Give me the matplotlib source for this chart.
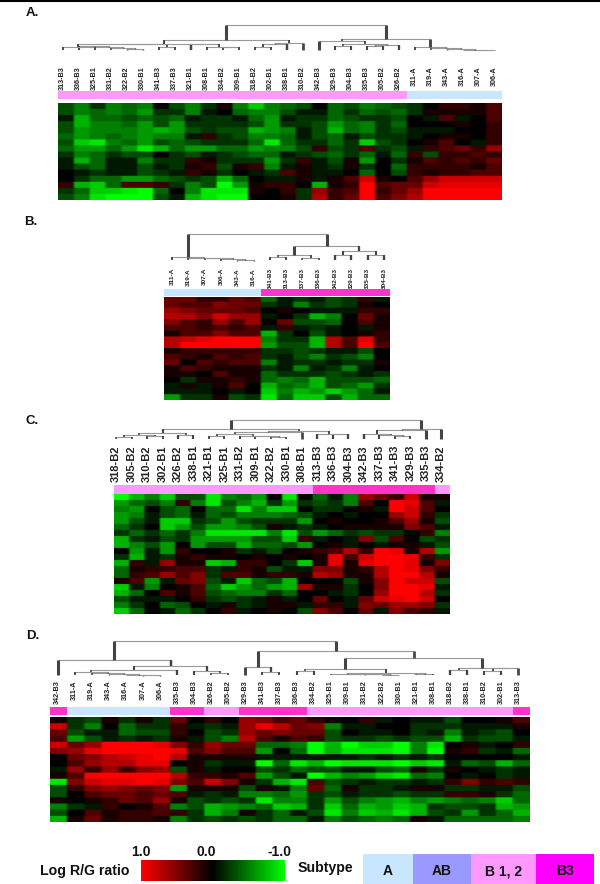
import numpy as np
import matplotlib
matplotlib.use('Agg')
import matplotlib.pyplot as plt
from matplotlib.colors import LinearSegmentedColormap

plt.rcParams['font.family'] = ['Liberation Sans', 'DejaVu Sans']

W, H = 600, 884

# column labels
labels_a = ['313-B3', '336-B3', '325-B1', '331-B2', '322-B2', '330-B1', '341-B3', '337-B3', '321-B1', '308-B1',
            '334-B2', '309-B1', '318-B2', '302-B1', '338-B1', '310-B2', '342-B3', '329-B3', '304-B3', '335-B3',
            '305-B2', '326-B2', '311-A', '319-A', '343-A', '316-A', '307-A', '306-A']
labels_b = ['311-A', '319-A', '307-A', '306-A', '343-A', '316-A', '341-B3', '313-B3', '337-B3', '336-B3',
            '342-B3', '329-B3', '335-B3', '304-B3']
labels_c = ['318-B2', '305-B2', '310-B2', '302-B1', '326-B2', '338-B1', '321-B1', '325-B1', '331-B2', '309-B1',
            '322-B2', '330-B1', '308-B1', '313-B3', '336-B3', '304-B3', '342-B3', '337-B3', '341-B3', '329-B3',
            '335-B3', '334-B2']
labels_d = ['342-B3', '311-A', '319-A', '343-A', '316-A', '307-A', '306-A', '335-B3', '304-B3', '326-B2',
            '305-B2', '329-B3', '341-B3', '337-B3', '336-B3', '334-B2', '325-B1', '309-B1', '331-B2', '322-B2',
            '330-B1', '321-B1', '308-B1', '318-B2', '338-B1', '310-B2', '302-B1', '313-B3']

# subtype strip, one entry per column
strip_a = ['B12'] * 22 + ['A'] * 6
strip_b = ['A'] * 6 + ['B3'] * 8
strip_c = ['B12'] * 13 + ['B3'] * 8 + ['B12']
strip_d = ['B3'] + ['A'] * 6 + ['B3'] * 2 + ['B12'] * 2 + ['B3'] * 4 + ['B12'] * 12 + ['B3']

# log ratio in tenths
heat_a = [
    [-3, -5, -2, -5, -4, -5, 0, -3, -5, -2, 1, -5, -8, -5, -4, -3, 0, -4, -3, -5, -4, -3, -2, 0, 2, 2, 1, 3],
    [-3, -5, -4, -5, -4, -6, -2, -2, -5, -1, 0, -4, -5, -5, -3, -1, -1, -4, -2, -4, -3, -4, -2, 1, 1, 1, 1, 3],
    [-1, -7, -4, -4, -3, -4, -3, -4, -1, -2, -2, -1, -4, -6, -1, -2, -2, -4, -3, -2, -2, -3, 0, -1, 3, -1, 0, 3],
    [-3, -7, -5, -5, -4, -6, -3, -6, -2, -2, -2, -2, -3, -6, -2, -2, -3, -6, -4, -5, -2, -4, 0, 0, 0, 1, 0, 2],
    [-3, -6, -5, -5, -5, -6, -7, -6, -3, -2, -3, -3, -7, -6, -5, -1, -3, -7, -4, -5, -2, -3, -1, -1, -1, 0, 0, 2],
    [-4, -6, -5, -4, -5, -6, -5, -5, -1, 2, -2, -3, -5, -5, -4, -1, -3, -4, -1, -3, -2, -2, -1, 0, 1, 1, 0, 2],
    [-3, -8, -9, -5, -4, -6, -3, -4, -3, -2, -2, -2, -4, -9, -4, -2, -2, -4, -2, -8, -3, -2, 0, 1, 3, 0, -1, 2],
    [-4, -6, -6, -4, -6, -9, -7, -4, -6, -6, -4, -4, -6, -5, -5, -3, 2, -3, -2, 3, -2, -3, -1, 2, 3, 4, 2, 6],
    [-2, -5, -4, -2, -3, -3, 0, -2, -3, -1, -2, -3, -4, -4, -1, -2, -3, -4, -2, -4, -1, -4, 2, -3, 2, 2, 3, 2],
    [-1, -7, -4, -1, -1, -5, -2, -2, 2, 1, -2, -2, -2, -6, -2, 2, -1, -3, 1, -6, 0, -2, 1, 3, 2, 3, 2, 4],
    [-1, -3, -4, -1, -1, -3, -1, -2, 1, 2, -3, 1, 2, -5, -1, 1, -1, -2, 1, -2, 0, -4, 2, 2, 2, 2, 1, 3],
    [0, -1, -2, -1, -1, -3, -2, -1, 2, 1, -2, 0, -1, -2, 3, 1, -1, -1, 0, -4, 0, -3, 2, 1, 2, 2, 3, 3],
    [0, -2, -4, -4, -6, -6, -4, -3, -2, -3, -7, -4, 0, -1, -1, 1, -1, 1, 3, 8, 1, 0, 3, 6, 8, 8, 8, 8],
    [2, -7, -8, -4, 3, 3, 2, -2, -5, -3, -10, -6, 1, 2, 2, 0, -7, 1, 2, 10, 3, 4, 4, 8, 9, 9, 9, 9],
    [-2, -4, -8, -8, -9, -10, -4, 0, -5, -9, -9, -9, 1, 0, 2, -2, 6, 2, 3, 10, 2, 4, 6, 10, 10, 10, 10, 10],
    [-3, -5, -9, -10, -10, -10, -3, -1, -7, -9, -10, -10, 0, 0, 1, -2, 7, 2, 4, 10, 3, 5, 7, 10, 10, 10, 10, 10],
]
heat_b = [
    [4, 4, 2, 2, 4, 3, -4, -1, -2, -1, -3, -2, 2, -1],
    [4, 3, 3, 5, 4, 4, -2, -1, -5, -2, -3, -2, 1, 0],
    [6, 5, 4, 4, 4, 3, 0, 1, 0, -1, -1, -1, 2, 2],
    [7, 7, 5, 8, 6, 6, -1, 0, -2, -7, -5, 0, 4, 1],
    [5, 3, 2, 6, 3, 6, 0, 4, -3, -3, -4, 0, 3, 1],
    [3, 3, 2, 3, 2, 3, -1, 2, -1, -2, -1, 0, -1, 1],
    [1, 3, 3, 5, 3, 3, -7, -2, 0, -3, -1, 0, 1, 2],
    [7, 8, 9, 10, 10, 10, -5, -2, -2, -7, 7, 3, 9, 2],
    [7, 10, 10, 10, 10, 10, -6, -3, -3, -7, 7, 3, 10, 3],
    [1, 2, 2, 2, 2, 2, -2, -2, -3, -2, -1, -1, -3, 0],
    [3, 2, 1, 3, 2, 3, -2, -1, -3, -5, -2, -3, -5, 0],
    [4, 0, 3, 2, 3, 3, -5, -1, -2, -2, -1, -2, -2, 1],
    [1, 3, 2, 1, 1, 1, -2, -1, -5, -1, -2, -5, -1, 0],
    [1, 1, 0, 3, 1, 1, -4, -2, -2, -2, -3, -2, -1, -2],
    [0, -2, 1, 1, 2, 1, -4, -5, -4, -7, -3, -3, -3, -4],
    [-1, 1, -1, 1, 3, 0, -7, -4, -5, -7, -3, -4, -6, -2],
    [-1, -1, -1, 0, -1, 0, -8, -5, -7, -6, -8, -6, -4, -1],
    [-6, -2, -2, 1, -3, -2, -9, -4, -8, -8, -3, -7, -4, -4],
]
heat_c = [
    [-10, -7, -5, -8, -3, -3, -9, -5, -4, -6, 0, -9, 0, -4, -1, -5, 6, 4, 2, 8, 1, 1],
    [-6, -4, -3, -5, 2, -5, -9, -3, -5, -7, -2, -6, -2, -3, -2, -5, 3, 0, 10, 9, 3, -1],
    [-5, -6, 0, -3, -4, 0, -4, -4, -9, -5, -8, -8, 0, -2, -2, 0, 1, -1, 10, 8, 3, 0],
    [-6, -5, -1, -3, -4, -1, -4, -3, -5, -5, -5, -4, -3, -1, 0, -1, 0, 0, 6, 8, 2, -2],
    [-6, -3, -1, -8, -8, -2, -3, -6, -3, -2, -2, -2, -6, 0, 1, 0, 0, 1, 3, 6, 1, -3],
    [-4, -2, 0, -8, -6, -3, -6, -6, -5, -3, 1, -1, -2, -1, 0, 1, 1, 1, 1, 5, 3, -1],
    [-2, -4, -2, -4, -2, -5, -9, -9, -9, -9, -5, -9, -3, -6, -4, -2, -3, -2, -2, 0, 2, -5],
    [-7, -2, -1, -3, -2, -6, -6, -6, -6, -3, -3, -8, 2, -1, 0, -1, 5, -3, 3, 0, -3, -2],
    [-7, -5, -3, -6, 0, -6, -3, -3, -7, -4, -4, -3, -6, 0, 1, -1, 0, -1, 1, 1, -1, -3],
    [0, -6, -1, -6, 2, 0, 0, 1, -2, -1, -3, 0, 1, 2, 3, 7, 2, 10, 9, 1, 7, -6],
    [-2, -7, -1, -2, 1, 2, 1, 1, 0, 1, 0, 1, 0, 1, 9, 3, 8, 10, 10, 9, 2, -2],
    [-7, 2, -1, 6, 1, 1, -8, -7, 2, 2, 0, -2, -8, 1, 9, 1, 9, 10, 10, 9, 1, 5],
    [-4, 1, 2, 2, 3, 3, -2, -1, 2, 1, -3, -1, -1, 5, 5, 1, 2, 7, 10, 9, 5, 2],
    [-4, 2, 3, 6, 3, 5, -2, 3, 3, 1, 2, 2, 1, 7, 6, 1, 1, 7, 10, 10, 7, 1],
    [1, 3, -6, -1, 4, 5, -3, -1, -8, -4, -3, -7, 0, 0, 0, -3, 1, 5, 10, 8, 8, -3],
    [-8, -1, -5, 0, 1, 3, -4, -8, -6, -4, -6, -7, 6, 1, 1, -2, 0, 5, 10, 10, 9, -1],
    [-7, -4, 0, 3, 1, 3, -3, -4, -5, -5, -2, -4, 0, 0, -1, -2, 0, 6, 10, 10, 7, -2],
    [-3, -1, -1, -1, 0, 2, -2, -3, -2, -1, 1, -1, 0, 4, 0, -1, 4, 8, 9, 10, 8, 0],
    [-5, -2, 0, -4, -3, 0, -1, 1, -2, -1, 1, 1, -1, 2, 2, -1, 5, 4, 6, 6, 5, -2],
    [-8, -4, 0, -1, -4, -2, 0, 2, -1, 0, 1, 0, -3, 5, 3, 0, 4, -1, 5, 3, 2, -1],
]
heat_d = [
    [1, -2, -3, 1, -2, 1, -2, 4, 0, 2, 0, 6, 5, 3, 4, 2, 1, 0, 2, -1, 0, -1, -1, -3, 0, 0, 1, 3],
    [8, -2, -5, 0, -4, -2, -2, 2, -1, -2, -1, 6, 9, 7, 4, 5, -5, -1, -1, 0, 0, -2, -2, -2, -1, -1, -1, 1],
    [4, -3, -1, -1, -4, -3, -3, 2, 0, -3, -2, 6, 4, 5, 4, 4, -3, 0, -1, -1, 0, -2, -1, -5, -1, -2, -3, 0],
    [3, -6, -3, -1, -2, -1, -2, 1, -1, -3, -5, 7, 3, 1, 3, 2, -3, -2, -2, -3, -2, -3, -3, -7, -2, -3, -3, -1],
    [8, 4, 6, 10, 10, 10, 9, 5, 2, 6, 4, 4, -4, -4, -5, -10, -7, -10, -8, -8, -10, -5, -9, 0, 1, -1, 0, 2],
    [5, 6, 9, 10, 10, 10, 10, 9, 3, 5, 3, 3, -6, 0, -4, -10, -7, -9, -9, -9, -10, -5, -10, 1, 2, -2, -1, -4],
    [0, 4, 5, 7, 8, 9, 10, 7, 1, 1, 1, 1, -1, -1, -1, -1, -1, -1, -2, -1, -2, -1, -2, 0, 0, 0, 0, -1],
    [0, 3, 6, 7, 7, 9, 9, 0, 1, -2, -1, -1, -10, -4, -9, -7, -10, -9, -9, -9, -10, -8, -9, -1, -4, -3, -7, -4],
    [-1, 6, 2, 6, 2, 5, 6, -3, 1, -1, 0, 0, -3, -2, -4, -3, -3, -1, -1, -3, -4, 1, -2, 1, 0, -1, -2, -1],
    [1, 3, 10, 10, 10, 10, 10, 7, 2, 2, 1, 3, -6, -3, -1, -10, -7, -5, -6, -8, -9, -4, -5, 0, -1, 0, -2, -1],
    [-9, 5, 8, 9, 9, 10, 9, 5, 3, 8, 5, 1, -2, -7, -9, 3, -3, -2, -1, -2, -2, -1, -2, 2, 5, 2, 3, 2],
    [-3, 2, 5, 6, 5, 4, 5, -6, 1, 1, 1, -3, 1, -1, -5, 4, -4, 1, -2, -2, -1, 1, 1, -2, -2, -1, -1, -3],
    [-3, 0, 3, 4, 4, 3, 4, 3, -1, -2, -1, -5, -5, -4, -6, -2, -3, -1, -2, -2, -3, -2, -2, 2, 2, 1, -2, -4],
    [1, 0, 1, 2, 4, 3, 6, 1, -3, -2, -3, -2, -9, -5, -5, -2, -6, -3, -5, -6, -7, -5, -6, -5, -4, -5, -8, -4],
    [-5, -2, -1, 2, 0, 1, 3, -5, -3, -7, -6, -5, -4, -8, -7, -2, -8, -4, -7, -6, -8, -7, -2, -3, -3, -2, -7, -6],
    [-3, 0, 3, 1, 2, 2, 3, 2, -2, -7, -5, 1, -2, -4, -1, -3, -9, -5, -8, -7, -9, -7, -3, -2, -6, -2, -4, -7],
    [-7, 1, 4, 1, 2, 2, 1, -5, -2, -3, -2, -3, -2, -4, -4, -1, -5, -3, -4, -5, -4, 1, -1, -4, -4, -4, -4, -5],
]

# dendrograms: (merge level, left, right), a bare number is a leaf and where it ends
tree_a = (25,
          (40,
           (44,
            (44, (47, 50, (46, 50, (47, 50, (48, 50, (49, 50, 50))))), (47, 50, 50)),
            (44, 50, (47, 50, (47, 50, 50)))),
           (43, (44, (47, 50, 50), 50), 50)),
          (39,
           (41, 50, (44, (46, 50, 50), (45, (46, 50, 50), 50))),
           (47, 50, (48, 50, (49, 50, (50, 50, (50, 50, 50)))))))
tree_b = (234,
          (257, 260, (258, 260, (258, 260, (259, 261, (260, 261, 261))))),
          (246,
           (255, (257, 260, 260), (258, 260, 260)),
           (251, (255, 260, 260), (255, 260, 260))))
tree_c = (420,
          (429,
           (433, (434.5, (437, 439, 439), (436, 439, 439)), (434.5, 439, 439)),
           (431,
            (432,
             (434, (436, 439, 439), (435.5, 439, (436, 439, (437, 439, 439)))),
             439),
            (434, 439, (434, 439, 439)))),
          (429,
           (430,
            (433.5, 439, (435, 439, (436, 439, 439))),
            439),
           439))
tree_d = (641,
          (660,
           675,
           (666,
            (670, (672, 675, (673, 675, (674, 675, (674.5, 675, (675, 676, 676))))), 675),
            (671, 675, (673, 675, 675)))),
          (651,
           (667, 675, (672, 675, 675)),
           (658,
            (669,
             (671, 675, 675),
             (672.5, (673.5, 675, (673.8, 675, (674, 675, (674.5, 675, 675)))), (673.5, 675, 675))),
            (668, (670, 675, 675), (668, (671, 675, 675), 675)))))

strip_colors = {'A': '#c8e6ff', 'B12': '#ff99ff', 'B3': '#ff33cc'}
legend_names = ['A', 'AB', 'B 1, 2', 'B3']
legend_colors = ['#c8e6ff', '#9999ff', '#ff99ff', '#ff00ff']
legend_edges = [363, 412.5, 470.5, 536, 594]

cmap = LinearSegmentedColormap.from_list('rg', ['#00ff00', '#000000', '#ff0000'])


def px_axes(fig, x0, x1, y0, y1):
    # y measured from the top, as in the picture
    return fig.add_axes([x0 / W, 1 - y1 / H, (x1 - x0) / W, (y1 - y0) / H])


def draw_tree(ax, node, counter):
    if not isinstance(node, tuple):
        x = counter[0]
        counter[0] += 1
        return x, node
    level, left, right = node
    xl, yl = draw_tree(ax, left, counter)
    xr, yr = draw_tree(ax, right, counter)
    ax.plot([xl, xr], [level, level], color='#999999', lw=0.8, solid_capstyle='butt')
    for x, y in [(xl, yl), (xr, yr)]:
        ax.plot([x, x], [level, y], color='#444444', lw=min(0.9 + abs(y - level) * 0.15, 2.2),
                solid_capstyle='butt')
    return (xl + xr) / 2, level


def panel(labels, strip, heat, tree, tree_x, tree_y, strip_y, heat_x, heat_y, font_size):
    n = len(labels)
    # dendrogram with the sample names underneath
    ax = px_axes(fig, tree_x[0], tree_x[1], tree_y[0], tree_y[1])
    draw_tree(ax, tree, [0])
    ax.set_xlim(-0.5, n - 0.5)
    ax.set_ylim(tree_y[1], tree_y[0])
    ax.set_xticks(range(n))
    ax.set_xticklabels(labels, rotation=90, fontsize=font_size, color='#222222')
    for t in ax.get_xticklabels():
        t.set_fontweight('bold')
    ax.set_yticks([])
    ax.tick_params(length=0, pad=0)
    for s in ax.spines.values():
        s.set_visible(False)
    ax.patch.set_alpha(0)

    # subtype strip
    ax = px_axes(fig, heat_x[0], heat_x[1], strip_y[0], strip_y[1])
    ax.bar(range(n), 1, width=1, color=[strip_colors[s] for s in strip])
    ax.set_xlim(-0.5, n - 0.5)
    ax.set_ylim(0, 1)
    ax.axis('off')

    # heat map, soft cell edges like the scanned original
    ax = px_axes(fig, heat_x[0], heat_x[1], heat_y[0], heat_y[1])
    grid = np.repeat(np.repeat(np.array(heat) / 10, 4, axis=0), 4, axis=1)
    ax.imshow(grid, cmap=cmap, vmin=-1, vmax=1, aspect='auto', interpolation='hanning')
    ax.axis('off')


fig = plt.figure(figsize=(W / 100, H / 100), dpi=100)

panel(labels_a, strip_a, heat_a, tree_a, (54.7, 502.7), (22, 66), (91, 99), (58, 502), (103, 200), 5.2)
panel(labels_b, strip_b, heat_b, tree_b, (164, 392), (232, 268), (289, 296), (164, 390), (297, 400), 4.6)
panel(labels_c, strip_c, heat_c, tree_c, (108.3, 449), (418, 445), (485, 494), (114, 450), (494, 614), 8)
panel(labels_d, strip_d, heat_d, tree_d, (49, 527), (639, 680), (707, 715), (50, 530), (717, 822), 5.2)

# page furniture in picture pixels
bg = fig.add_axes([0, 0, 1, 1], zorder=5)
bg.set_xlim(0, W)
bg.set_ylim(H, 0)
bg.axis('off')
bg.plot([0, W], [0.5, 0.5], color='black', lw=1.5)

for name, x, y in [('A.', 26, 13), ('B.', 24, 222), ('C.', 25, 421), ('D.', 26, 636)]:
    bg.text(x, y, name, fontsize=9.5, fontweight='bold', va='center', color='#111111')

bg.text(40, 871, 'Log R/G ratio', fontsize=10.2, fontweight='bold', va='center', color='#111111')
bg.text(298, 868, 'Subtype', fontsize=10.2, fontweight='bold', va='center', color='#111111')
for tick, x in [('1.0', 141), ('0.0', 206), ('-1.0', 279)]:
    bg.text(x, 852, tick, fontsize=10, fontweight='bold', ha='center', va='center', color='#111111')

for i, name in enumerate(legend_names):
    x0, x1 = legend_edges[i], legend_edges[i + 1]
    bg.bar((x0 + x1) / 2, 30, width=x1 - x0, bottom=854, color=legend_colors[i])
    bg.text((x0 + x1) / 2, 871, name, fontsize=10, fontweight='bold', ha='center', va='center', color='#111111')

# red to green scale
ax = px_axes(fig, 141, 285, 860, 881)
sm = plt.cm.ScalarMappable(cmap=cmap, norm=plt.Normalize(-1, 1))
cb = fig.colorbar(sm, cax=ax, orientation='horizontal')
cb.ax.invert_xaxis()
cb.set_ticks([])
cb.outline.set_visible(False)

fig.savefig('out.png', dpi=100)
